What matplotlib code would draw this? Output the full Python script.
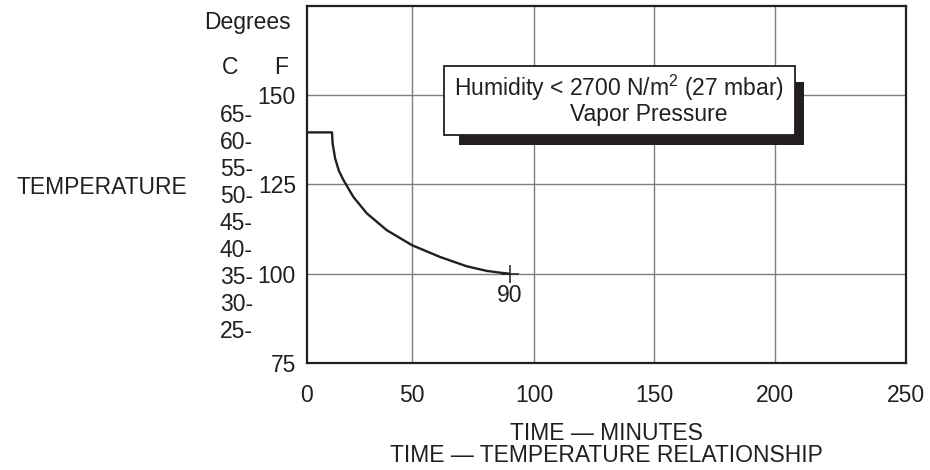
import numpy as np
import matplotlib
matplotlib.use("Agg")
import matplotlib.pyplot as plt
from matplotlib.patches import Rectangle

plt.rcParams['font.family'] = ['Liberation Sans', 'DejaVu Sans']
plt.rcParams['mathtext.fontset'] = 'custom'
plt.rcParams['mathtext.rm'] = 'Liberation Sans'

INK = '#231f20'
GRID = '#7f7f7f'
FS = 16.5

# ---------------------------------------------------------------------------
# data
# ---------------------------------------------------------------------------
x_ticks = [0, 50, 100, 150, 200, 250]
# the original drawing has an uneven minute grid (first interval narrower)
x_drawn = [307, 412, 534, 654, 775, 906]

f_ticks = [75, 100, 125, 150]
c_labels = [65, 60, 55, 50, 45, 40, 35, 30, 25]

time_min = [0, 11.9, 12.2, 13.4, 15.2, 17.4, 22.1, 28.5, 38.0, 50.0,
            61.5, 72.4, 80.6, 86.1, 90]
temp_f = [139.6, 139.6, 136.5, 132.3, 128.8, 126.2, 121.5, 116.9, 112.2,
          108.0, 104.7, 102.1, 100.8, 100.3, 100.0]

end_point = (90, 100)
end_label = '90'

box_line1 = r'Humidity < 2700 N/m$^{\mathrm{2}}$ (27 mbar)'
box_line2 = 'Vapor Pressure'


def fwd(x):
    return np.interp(np.asarray(x, float), x_ticks, x_drawn)


def inv(p):
    return np.interp(np.asarray(p, float), x_drawn, x_ticks)


# ---------------------------------------------------------------------------
# figure
# ---------------------------------------------------------------------------
fig = plt.figure(figsize=(9.3, 4.7), dpi=100)
ax = fig.add_axes([307 / 930, 1 - 363 / 470, 599 / 930, 357 / 470])

ax.set_xscale('function', functions=(fwd, inv))
ax.set_xlim(0, 250)
ax.set_ylim(75, 175)

ax.set_xticks(x_ticks)
ax.set_xticklabels([str(t) for t in x_ticks])
ax.set_yticks(f_ticks)
ax.set_yticklabels([str(t) for t in f_ticks])
ax.tick_params(axis='x', length=0, pad=15, labelsize=FS, colors=INK)
ax.tick_params(axis='y', length=0, pad=8, labelsize=FS, colors=INK)

for t in x_ticks[1:-1]:
    ax.axvline(t, color=GRID, lw=1.0, zorder=1)
for t in f_ticks[1:]:
    ax.axhline(t, color=GRID, lw=1.0, zorder=1)

for s in ax.spines.values():
    s.set_color(INK)
    s.set_linewidth(1.6)

# curve
ax.plot(time_min, temp_f, color=INK, lw=1.7, zorder=3)
ax.plot(*end_point, marker='+', ms=12.5, mew=1.1, color=INK, zorder=3)
ax.annotate(end_label, end_point, xytext=(0, -16), textcoords='offset points',
            ha='center', va='center', fontsize=FS, color=INK)

# humidity box with drop shadow
ax.add_patch(Rectangle((0.2538, 0.6106), 0.5759, 0.1764, transform=ax.transAxes,
                       facecolor=INK, edgecolor='none', zorder=4))
ax.add_patch(Rectangle((0.2287, 0.6387), 0.5860, 0.1933, transform=ax.transAxes,
                       facecolor='white', edgecolor=INK, lw=1.3, zorder=5))
ax.text(0.521, 0.770, box_line1, transform=ax.transAxes, ha='center',
        va='center', fontsize=FS, color=INK, zorder=6)
ax.text(0.571, 0.695, box_line2, transform=ax.transAxes, ha='center',
        va='center', fontsize=FS, color=INK, zorder=6)

# Celsius labels (spaced as in the original drawing)
trans = ax.get_yaxis_transform()
for c in c_labels:
    y = 83.7 + (c - 25) * 7.59 / 5
    ax.text((253 - 307) / 599, y, f'{c}-', transform=trans, ha='right',
            va='center', fontsize=FS, color=INK, clip_on=False)

# outer labels
fig.text(247.5 / 930, 1 - 22 / 470, 'Degrees', ha='center', va='center',
         fontsize=FS, color=INK)
fig.text(230 / 930, 1 - 67 / 470, 'C', ha='center', va='center',
         fontsize=FS, color=INK)
fig.text(281.5 / 930, 1 - 67 / 470, 'F', ha='center', va='center',
         fontsize=FS, color=INK)
fig.text(187 / 930, 1 - 187 / 470, 'TEMPERATURE', ha='right', va='center',
         fontsize=FS, color=INK)
fig.text(606 / 930, 1 - 433 / 470, 'TIME \u2014 MINUTES', ha='center',
         va='center', fontsize=FS, color=INK)
fig.text(606 / 930, 1 - 455 / 470, 'TIME \u2014 TEMPERATURE RELATIONSHIP',
         ha='center', va='center', fontsize=FS, color=INK)

fig.savefig('out.png', dpi=100)
